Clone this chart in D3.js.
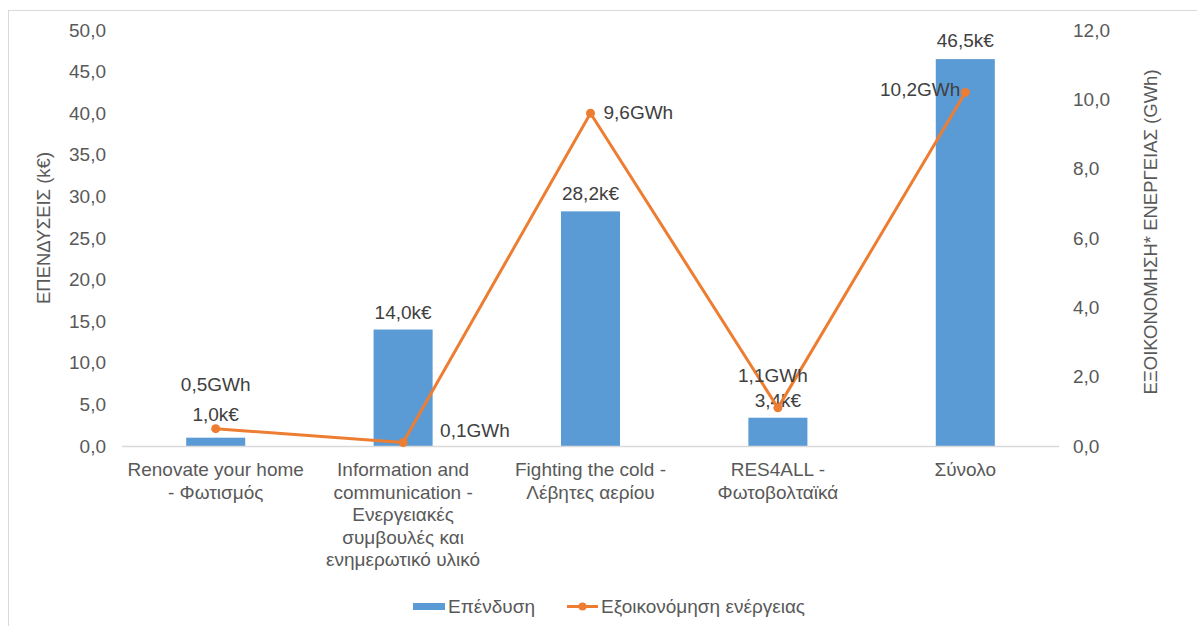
<!DOCTYPE html>
<html><head><meta charset="utf-8">
<script src="https://cdn.jsdelivr.net/npm/d3@7"></script>
<style>body{margin:0;background:#fff;}svg{display:block;font-family:"Liberation Sans",Arial,sans-serif;}</style>
</head><body><svg id="c" width="1197" height="626"></svg>
<script>
const categories = [
  ["Renovate your home", "- Φωτισμός"],
  ["Information and", "communication -", "Ενεργειακές", "συμβουλές και", "ενημερωτικό υλικό"],
  ["Fighting the cold -", "Λέβητες αερίου"],
  ["RES4ALL -", "Φωτοβολταϊκά"],
  ["Σύνολο"]
];
const investment = [1.0, 14.0, 28.2, 3.4, 46.5];
const savings = [0.5, 0.1, 9.6, 1.1, 10.2];
const leftTicks = [0,5,10,15,20,25,30,35,40,45,50];
const rightTicks = [0,2,4,6,8,10,12];
const seriesNames = ["Επένδυση", "Εξοικονόμηση ενέργειας"];

// label placement (style, not data)
const savingsLabelPos = ["above", "right", "right", "above", "left"];
const savingsLabelDx = [0, 37, 13, -5, -5];
const savingsLabelDy = [-38, -6, 6, -26, 4];
const barLabelDy = [-17, -11, -11, -11, -12];

const svg = d3.select("#c");
const W = 1197, H = 626;
const x0 = 122, x1 = 1059, yTop = 30, yBot = 446;
const FS = "19px";
const fmt = v => v.toFixed(1).replace(".", ",");
const textCol = "#595959", labCol = "#404040", blue = "#5B9BD5", orange = "#ED7D31";

svg.append("rect").attr("x", 8.5).attr("y", 10.5).attr("width", W).attr("height", H)
  .attr("fill", "none").attr("stroke", "#d9d9d9").attr("stroke-width", 1);

const x = d3.scaleBand().domain(d3.range(categories.length)).range([x0, x1]).paddingInner(0.685).paddingOuter(0.3425);
const yL = d3.scaleLinear().domain([0, 50]).range([yBot, yTop]);
const yR = d3.scaleLinear().domain([0, 12]).range([yBot, yTop]);

const axL = svg.append("g").attr("transform", `translate(${x0},0)`)
  .call(d3.axisLeft(yL).tickValues(leftTicks).tickFormat(fmt).tickSize(0).tickPadding(16));
axL.select(".domain").remove();
axL.selectAll("text").attr("fill", textCol).style("font-size", FS).style("font-family", "Liberation Sans, Arial, sans-serif");

const axR = svg.append("g").attr("transform", `translate(${x1},0)`)
  .call(d3.axisRight(yR).tickValues(rightTicks).tickFormat(fmt).tickSize(0).tickPadding(14));
axR.select(".domain").remove();
axR.selectAll("text").attr("fill", textCol).style("font-size", FS).style("font-family", "Liberation Sans, Arial, sans-serif");

// bars
svg.append("g").selectAll("rect").data(investment).join("rect")
  .attr("x", (d, i) => x(i)).attr("width", x.bandwidth())
  .attr("y", d => yL(d)).attr("height", d => yBot - yL(d)).attr("fill", blue);

// baseline
svg.append("line").attr("x1", x0).attr("x2", x1).attr("y1", yBot + 0.5).attr("y2", yBot + 0.5)
  .attr("stroke", "#d9d9d9").attr("stroke-width", 1.5);

// x labels
const xl = svg.append("g");
categories.forEach((lines, i) => {
  const cxp = x(i) + x.bandwidth() / 2;
  const t = xl.append("text").attr("x", cxp).attr("y", 476)
    .attr("text-anchor", "middle").attr("fill", textCol).style("font-size", FS);
  lines.forEach((l, j) => t.append("tspan").attr("x", cxp).attr("dy", j ? 22.5 : 0).text(l));
});

// bar labels
svg.append("g").selectAll("text").data(investment).join("text")
  .attr("x", (d, i) => x(i) + x.bandwidth() / 2).attr("y", (d, i) => yL(d) + barLabelDy[i])
  .attr("text-anchor", "middle").attr("fill", labCol).style("font-size", FS)
  .text(d => fmt(d) + "k€");

// line
const cx = i => x(i) + x.bandwidth() / 2;
svg.append("path").datum(savings)
  .attr("d", d3.line().x((d, i) => cx(i)).y(d => yR(d)))
  .attr("fill", "none").attr("stroke", orange).attr("stroke-width", 3).attr("stroke-linejoin", "round");
svg.append("g").selectAll("circle").data(savings).join("circle")
  .attr("cx", (d, i) => cx(i)).attr("cy", d => yR(d)).attr("r", 4.5).attr("fill", orange);

// line labels
svg.append("g").selectAll("text").data(savings).join("text")
  .attr("x", (d, i) => cx(i) + savingsLabelDx[i])
  .attr("y", (d, i) => yR(d) + savingsLabelDy[i])
  .attr("text-anchor", (d, i) => savingsLabelPos[i] === "right" ? "start" : savingsLabelPos[i] === "left" ? "end" : "middle")
  .attr("fill", labCol).style("font-size", FS)
  .text(d => fmt(d) + "GWh");

// axis titles
svg.append("text").attr("transform", "translate(50,228) rotate(-90)").attr("text-anchor", "middle")
  .attr("fill", textCol).style("font-size", "18.5px").text("ΕΠΕΝΔΥΣΕΙΣ (k€)");
svg.append("text").attr("transform", "translate(1157,232) rotate(-90)").attr("text-anchor", "middle")
  .attr("fill", textCol).style("font-size", "18.5px").text("ΕΞΟΙΚΟΝΟΜΗΣΗ* ΕΝΕΡΓΕΙΑΣ (GWh)");

// legend
const lg = svg.append("g");
lg.append("rect").attr("x", 413).attr("y", 603).attr("width", 32).attr("height", 7).attr("fill", blue);
lg.append("text").attr("x", 448).attr("y", 613).attr("fill", textCol).style("font-size", FS).text(seriesNames[0]);
lg.append("line").attr("x1", 567).attr("x2", 598).attr("y1", 606.5).attr("y2", 606.5).attr("stroke", orange).attr("stroke-width", 3);
lg.append("circle").attr("cx", 582.5).attr("cy", 606.5).attr("r", 4).attr("fill", orange);
lg.append("text").attr("x", 601).attr("y", 613).attr("fill", textCol).style("font-size", FS).text(seriesNames[1]);
</script></body></html>
